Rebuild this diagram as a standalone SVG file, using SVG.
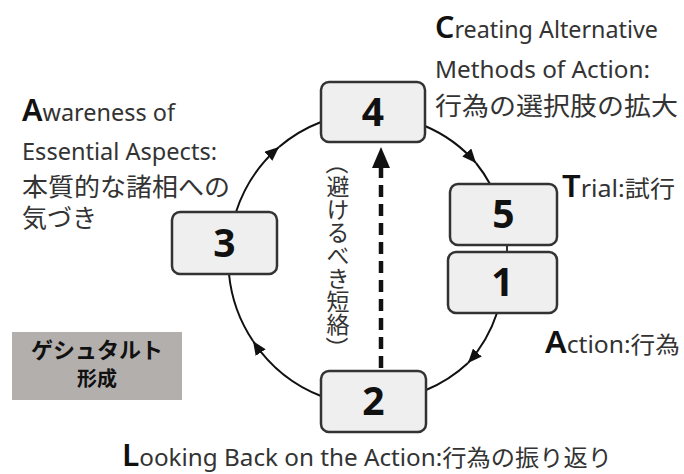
<svg xmlns="http://www.w3.org/2000/svg" width="684" height="474" viewBox="0 0 684 474">
  <style>
    .box { fill: #efefef; stroke: #333; stroke-width: 2.5; }
    .num { font-family: "Noto Sans", "DejaVu Sans", sans-serif; font-weight: bold; font-size: 39px; fill: #111; text-anchor: middle; }
    .lbl { font-family: "Noto Sans", "Noto Sans CJK JP", sans-serif; font-size: 23px; fill: #333; }
    .jp { font-family: "Noto Sans CJK JP", "Noto Sans", sans-serif; font-size: 25px; fill: #333; }
    .cap { font-size: 30px; fill: #111; font-weight: 600; }
    .arc { fill: none; stroke: #111; stroke-width: 2; }
    .vt { font-family: "Noto Sans CJK JP", sans-serif; font-size: 23px; fill: #333; }
    .vertical { writing-mode: vertical-rl; }
  </style>
  <defs>
    <marker id="head" markerUnits="userSpaceOnUse" markerWidth="14" markerHeight="12" refX="14" refY="6" orient="auto">
      <path d="M0,0 L14,6 L0,12 z" fill="#111"/>
    </marker>
  </defs>
  <rect width="684" height="474" fill="#fff"/>

  <!-- cycle connectors -->
  <g id="connectors">
    <path class="arc" d="M236,212 A145,145 0 0 1 279,147" marker-end="url(#head)"/>
    <path class="arc" d="M279,147 A145,145 0 0 1 321,122"/>
    <path class="arc" d="M425,126 A140,140 0 0 1 476,163" marker-end="url(#head)"/>
    <path class="arc" d="M476,163 A140,140 0 0 1 490,184"/>
    <path class="arc" d="M497,313 A140,140 0 0 1 468,363" marker-end="url(#head)"/>
    <path class="arc" d="M468,363 A140,140 0 0 1 426,390"/>
    <path class="arc" d="M321,396 A145,145 0 0 1 253,341" marker-end="url(#head)"/>
    <path class="arc" d="M253,341 A145,145 0 0 1 229,274"/>
    <line x1="507" y1="245" x2="507" y2="252" stroke="#333" stroke-width="2"/>
    <!-- dashed shortcut 2 -> 4 -->
    <line x1="381" y1="368" x2="381" y2="166" stroke="#111" stroke-width="4.5" stroke-dasharray="12 7"/>
    <polygon points="381,147 372,168 390,168" fill="#111"/>
    <!-- vertical caption; brackets turned to lie across the column -->
    <text class="vt" x="338" y="163" transform="rotate(90 338 163)" text-anchor="middle" dominant-baseline="central">（</text>
    <text class="vt vertical" x="338" y="175">避けるべき短絡</text>
    <text class="vt" x="338" y="348" transform="rotate(90 338 348)" text-anchor="middle" dominant-baseline="central">）</text>
  </g>

  <!-- numbered stages -->
  <g id="node4">
    <rect class="box" x="321" y="82" width="104" height="60" rx="8"/>
    <text class="num" x="373" y="126">4</text>
  </g>
  <g id="node3">
    <rect class="box" x="172" y="212" width="105" height="62" rx="8"/>
    <text class="num" x="224.5" y="257">3</text>
  </g>
  <g id="node5">
    <rect class="box" x="450" y="184" width="107" height="61" rx="8"/>
    <text class="num" x="503.5" y="228">5</text>
  </g>
  <g id="node1">
    <rect class="box" x="448" y="252" width="109" height="61" rx="8"/>
    <text class="num" x="502.5" y="296">1</text>
  </g>
  <g id="node2">
    <rect class="box" x="321" y="371" width="105" height="61" rx="8"/>
    <text class="num" x="373.5" y="415">2</text>
  </g>

  <!-- stage captions -->
  <g id="label-creating">
    <text class="lbl" x="435" y="38" textLength="223" lengthAdjust="spacingAndGlyphs"><tspan class="cap">C</tspan>reating Alternative</text>
    <text class="lbl" x="435" y="78" textLength="215" lengthAdjust="spacingAndGlyphs">Methods of Action:</text>
    <text class="jp" x="435" y="115" textLength="243" lengthAdjust="spacingAndGlyphs">行為の選択肢の拡大</text>
  </g>
  <g id="label-awareness">
    <text class="lbl" x="22" y="121" textLength="153" lengthAdjust="spacingAndGlyphs"><tspan class="cap">A</tspan>wareness of</text>
    <text class="lbl" x="22" y="160" textLength="195" lengthAdjust="spacingAndGlyphs">Essential Aspects:</text>
    <text class="jp" x="22" y="196" textLength="208" lengthAdjust="spacingAndGlyphs">本質的な諸相への</text>
    <text class="jp" x="22" y="227">気づき</text>
  </g>
  <g id="label-trial">
    <text class="lbl" x="562" y="197" textLength="113" lengthAdjust="spacingAndGlyphs"><tspan class="cap">T</tspan>rial:試行</text>
  </g>
  <g id="label-action">
    <text class="lbl" x="545" y="353" textLength="135" lengthAdjust="spacingAndGlyphs"><tspan class="cap">A</tspan>ction:行為</text>
  </g>
  <g id="label-looking">
    <text class="lbl" x="122" y="466" textLength="490" lengthAdjust="spacingAndGlyphs"><tspan class="cap">L</tspan>ooking Back on the Action:行為の振り返り</text>
  </g>

  <g id="gestalt">
    <rect x="12" y="332" width="170" height="68" fill="#b3afad"/>
    <text x="97" y="358" text-anchor="middle" font-family="'Noto Sans CJK JP', sans-serif" font-weight="bold" font-size="22" fill="#111">ゲシュタルト</text>
    <text x="97" y="386" text-anchor="middle" font-family="'Noto Sans CJK JP', sans-serif" font-weight="bold" font-size="20" fill="#111">形成</text>
  </g>
</svg>
